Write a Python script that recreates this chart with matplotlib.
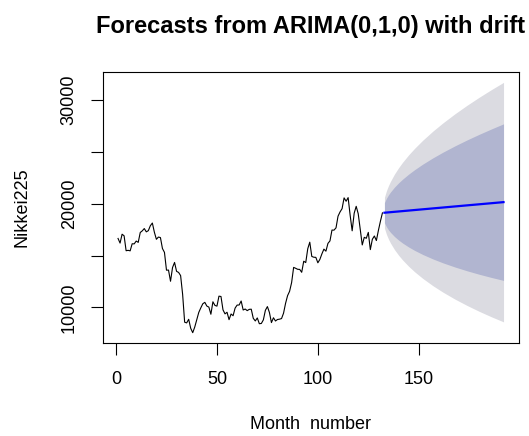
import matplotlib
matplotlib.use('Agg')
import matplotlib.pyplot as plt

plt.rcParams['font.family'] = ['Liberation Sans', 'DejaVu Sans']

# Nikkei225, monthly, month 1..132
nikkei = [16650, 16205, 17059, 16906, 15467, 15505, 15456, 16140, 16127, 16399, 16274, 17225,
          17383, 17604, 17287, 17400, 17875, 18138, 17248, 16569, 16785, 16737, 15680, 15307,
          13592, 13603, 12525, 13849, 14338, 13481, 13376, 13072, 11259, 8576, 8512, 8859,
          7994, 7568, 8109, 8828, 9522, 9958, 10356, 10492, 10133, 10034, 9345, 10546,
          10198, 10126, 11089, 11057, 9768, 9382, 9537, 8824, 9369, 9202, 9937, 10228,
          10237, 10624, 9755, 9849, 9693, 9816, 9833, 8955, 8700, 8988, 8434, 8455,
          8802, 9723, 10083, 9520, 8542, 9006, 8695, 8839, 8870, 8928, 9446, 10395,
          11138, 11559, 12398, 13861, 13775, 13677, 13668, 13389, 14455, 14327, 15662, 16291,
          14915, 14841, 14828, 14304, 14632, 15162, 15621, 15425, 16174, 16414, 17460, 17451,
          17674, 18798, 19207, 19520, 20563, 20236, 20585, 18890, 17388, 19083, 19747, 19034,
          17518, 16027, 16759, 16666, 17235, 15576, 16569, 16887, 16450, 17425, 18308, 19114]
months = list(range(1, len(nikkei) + 1))

# forecast, read at some months after the end
fc_month = [133, 134, 135, 136, 138, 140, 142, 145, 148, 152, 157, 162, 168, 174, 180, 186, 192]
fc_mean = [19131, 19149, 19166, 19183, 19218, 19252, 19287, 19339, 19391, 19460, 19547, 19633,
           19737, 19841, 19944, 20048, 20152]
lo80 = [18157, 17772, 17479, 17235, 16832, 16497, 16207, 15827, 15495, 15104, 14677, 14298,
        13893, 13529, 13196, 12891, 12608]
hi80 = [20105, 20526, 20853, 21131, 21604, 22007, 22367, 22851, 23287, 23816, 24417, 24968,
        25581, 26153, 26692, 27205, 27696]
lo95 = [17641, 17042, 16585, 16203, 15568, 15038, 14575, 13967, 13431, 12797, 12097, 11472,
        10797, 10185, 9621, 9099, 8611]
hi95 = [20621, 21256, 21747, 22163, 22868, 23466, 23999, 24711, 25351, 26123, 26997, 27794,
        28677, 29497, 30267, 30997, 31693]

xticks = [0, 50, 100, 150]
yticks = [10000, 15000, 20000, 25000, 30000]
ylabels = ['10000', '', '20000', '', '30000']

fig = plt.figure(figsize=(5.29, 4.36), dpi=100)
ax = fig.add_axes([0.194, 0.214, 0.787, 0.620])

ax.fill_between(fc_month, lo95, hi95, color='#DBDBE1', lw=0)
ax.fill_between(fc_month, lo80, hi80, color='#B1B5D0', lw=0)
ax.plot(months, nikkei, c='k', lw=0.8)
ax.plot(fc_month, fc_mean, c='#0000FF', lw=1.6)

# R style 4% padding
x0, x1 = 1, fc_month[-1]
ax.set_xlim(x0 - 0.04 * (x1 - x0), x1 + 0.04 * (x1 - x0))
y0 = min(min(nikkei), min(lo95))
y1 = max(max(nikkei), max(hi95))
ax.set_ylim(y0 - 0.04 * (y1 - y0), y1 + 0.04 * (y1 - y0))

ax.set_xticks(xticks)
ax.set_yticks(yticks)
ax.set_yticklabels(ylabels, rotation=90, va='center')
ax.tick_params(axis='both', direction='out', length=8.5, width=0.8, labelsize=13)
ax.tick_params(axis='x', pad=12)
ax.tick_params(axis='y', pad=9.5)
for s in ax.spines.values():
    s.set_linewidth(0.8)

ax.set_xlabel('Month  number', fontsize=13, labelpad=20)
ax.set_ylabel('Nikkei225', fontsize=13, labelpad=22)
ax.set_title('Forecasts from ARIMA(0,1,0) with drift', fontsize=17, fontweight='bold', pad=28)

plt.savefig('out.png', dpi=100)
